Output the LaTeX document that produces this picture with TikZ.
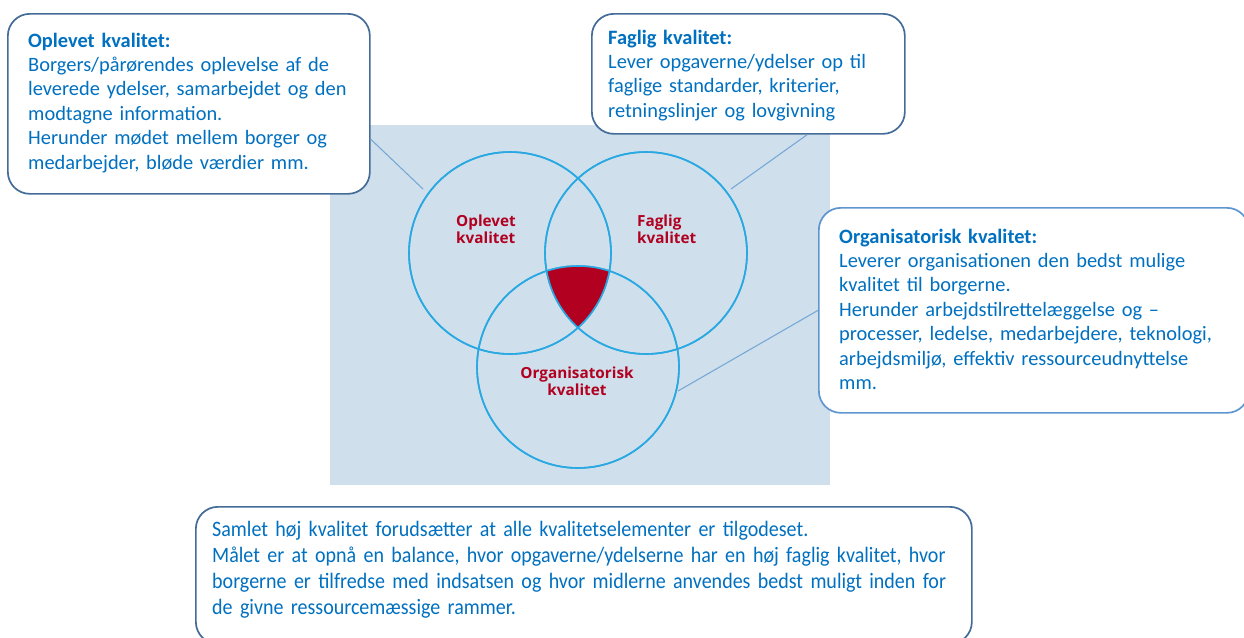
\documentclass[tikz,border=0pt]{standalone}
\usepackage{fontspec}
\setmainfont{Carlito}
\newfontfamily\vennfont{Open Sans}
\newfontfamily\condfont{Carlito}[FakeStretch=0.91]
\usetikzlibrary{positioning}
\definecolor{panelblue}{RGB}{207,224,236}
\definecolor{ringblue}{RGB}{41,168,226}
\definecolor{vennred}{RGB}{178,0,32}
\definecolor{textblue}{RGB}{0,112,192}
\definecolor{boxdark}{RGB}{68,108,152}
\definecolor{boxlight}{RGB}{96,150,208}
\definecolor{pointblue}{RGB}{120,168,214}
\tikzset{
  notebox/.style={
    draw=#1, line width=1.7pt, fill=white,
    rounded corners=22pt, inner sep=0pt, anchor=north west,
  },
  notetext/.style={
    anchor=base west, inner sep=0pt, align=left, text width=#1, text=textblue,
    font=\fontsize{20.4}{24.4}\selectfont,
  },
  notetext/.default=420pt,
  ring/.style={circle, draw=ringblue, line width=1.6pt, minimum size=202pt, inner sep=0pt},
  vennlabel/.style={
    inner sep=0pt, text=vennred, text width=120pt,
    font=\vennfont\bfseries\fontsize{15.3}{17.3}\selectfont,
  },
  pointer/.style={draw=pointblue, line width=1.1pt},
}

\begin{document}
\begin{tikzpicture}[x=1pt, y=-1pt]
\useasboundingbox (0,0) rectangle (1244,637);
\clip (0,0) rectangle (1244,637);

% =====================================================================
%  VENN PANEL
% =====================================================================

\node[fill=panelblue, inner sep=0pt, anchor=north west,
      minimum width=500pt, minimum height=360pt] (panel) at (330,125) {};

\node[ring] (oplring) at (510,253) {};
\node[ring] (fagring) at (646,253) {};
\node[ring] (orgring) at (578,367) {};

% common part of all three circles
\begin{scope}
  \clip (oplring.center) circle[radius=101pt];
  \clip (fagring.center) circle[radius=101pt];
  \fill[vennred] (orgring.center) circle[radius=101pt];
\end{scope}

% redraw the rings on top of the red part
\foreach \rg in {oplring, fagring, orgring} {
  \draw[ringblue, line width=1.6pt] (\rg.center) circle[radius=101pt];
}

\node[vennlabel, align=left, anchor=base west] (opllbl) at (456,226) {Oplevet\\kvalitet};
\node[vennlabel, align=left, anchor=base west] (faglbl) at (637,226) {Faglig\\kvalitet};
\node[vennlabel, align=center, anchor=base] (orglbl) at (577,378) {Organisatorisk\\kvalitet};

% free ends of the pointers
\coordinate (opltip) at (423,189);
\coordinate (fagtip) at (731,189);
\coordinate (orgtip) at (678,391);

% =====================================================================
%  NOTE BOXES
% =====================================================================

\node[notebox=boxdark, minimum width=362pt, minimum height=180pt] (oplbox) at (7,13) {};
\node[notebox=boxdark, minimum width=313pt, minimum height=120pt] (fagbox) at (591,13) {};
\node[notebox=boxlight, minimum width=430pt, minimum height=205pt] (orgbox) at (818,207) {};
\node[notebox=boxdark, minimum width=776pt, minimum height=137pt] (sumbox) at (195,506) {};

% --- pointers from the boxes into the panel ---
\draw[pointer] (oplbox.-11) -- (opltip);
\draw[pointer] (fagbox.-46) -- (fagtip);
\draw[pointer] (orgbox.west) -- (orgtip);

% --- box texts ---
\node[notetext] (opltxt) at (28,47) {%
  \textbf{Oplevet kvalitet:}\\
  Borgers/pårørendes oplevelse af de\\
  leverede ydelser, samarbejdet og den\\
  modtagne information.\\
  Herunder mødet mellem borger og\\
  medarbejder, bløde værdier mm.};

\node[notetext] (fagtxt) at (608,44) {%
  \textbf{Faglig kvalitet:}\\
  Lever opgaverne/ydelser op til\\
  faglige standarder, kriterier,\\
  retningslinjer og lovgivning};

\node[notetext] (orgtxt) at (839,243) {%
  \textbf{Organisatorisk kvalitet:}\\
  Leverer organisationen den bedst mulige\\
  kvalitet til borgerne.\\
  Herunder arbejdstilrettelæggelse og --\\
  processer, ledelse, medarbejdere, teknologi,\\
  arbejdsmiljø, effektiv ressourceudnyttelse\\
  mm.};

\node[notetext=820pt, font=\condfont\fontsize{22}{26}\selectfont] (sumtxt) at (212,536) {%
  Samlet høj kvalitet forudsætter at alle kvalitetselementer er tilgodeset.\\
  Målet er at opnå en balance, hvor opgaverne/ydelserne har en høj faglig kvalitet, hvor\\
  borgerne er tilfredse med indsatsen og hvor midlerne anvendes bedst muligt inden for\\
  de givne ressourcemæssige rammer.};

\end{tikzpicture}
\end{document}
